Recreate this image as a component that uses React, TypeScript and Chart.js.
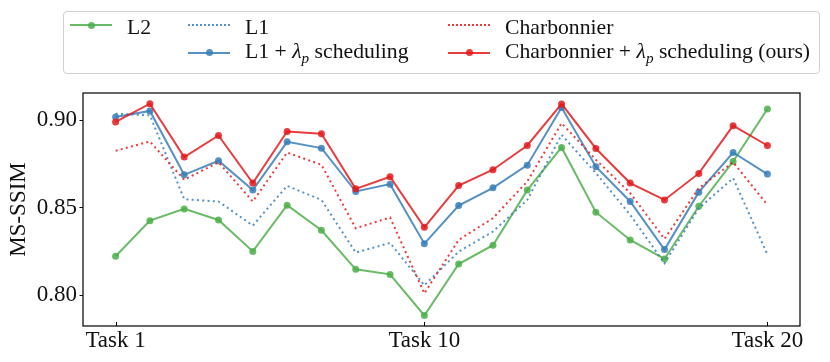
import React, { useEffect, useRef } from 'react';
import { Chart, registerables } from 'chart.js';

Chart.register(...registerables);

const categories = [
  'Task 1', 'Task 2', 'Task 3', 'Task 4', 'Task 5', 'Task 6', 'Task 7', 'Task 8', 'Task 9', 'Task 10',
  'Task 11', 'Task 12', 'Task 13', 'Task 14', 'Task 15', 'Task 16', 'Task 17', 'Task 18', 'Task 19', 'Task 20',
];
const xTickIndices = [0, 9, 19];
const yTickValues = [0.8, 0.85, 0.9];

const l2 = [0.8222, 0.8425, 0.8492, 0.8429, 0.825, 0.8513, 0.837, 0.8148, 0.8119, 0.7885, 0.8178, 0.8285, 0.8599, 0.8842, 0.8473, 0.8315, 0.8207, 0.8507, 0.8762, 0.9061];
const l1 = [0.9034, 0.9025, 0.8547, 0.8534, 0.8397, 0.8623, 0.8543, 0.8243, 0.8298, 0.8057, 0.8248, 0.8363, 0.8543, 0.8914, 0.8696, 0.8458, 0.8182, 0.8496, 0.8667, 0.8233];
const l1Sched = [0.9015, 0.905, 0.8686, 0.8766, 0.8599, 0.8874, 0.8838, 0.8591, 0.8633, 0.8294, 0.8511, 0.8612, 0.8741, 0.907, 0.8732, 0.8534, 0.826, 0.8587, 0.8813, 0.869];
const charb = [0.8823, 0.8876, 0.8658, 0.8757, 0.8534, 0.8813, 0.8743, 0.8382, 0.8443, 0.8011, 0.8315, 0.8439, 0.8648, 0.898, 0.8772, 0.8582, 0.8321, 0.861, 0.8758, 0.8515];
const charbSched = [0.8987, 0.9091, 0.8787, 0.891, 0.8639, 0.8933, 0.892, 0.8606, 0.8675, 0.8387, 0.8625, 0.8715, 0.8853, 0.909, 0.8836, 0.8639, 0.8543, 0.8694, 0.8966, 0.8853];

const GREEN = 'rgba(77,175,74,0.85)';
const BLUE = 'rgba(55,126,184,0.85)';
const RED = 'rgba(228,26,28,0.85)';
const FONT = '"Liberation Serif", "DejaVu Serif", serif';

const toPoints = (arr: number[]) => arr.map((v, i) => ({ x: i, y: v }));

const framePlugin = {
  id: 'frame',
  afterDraw(chart: any) {
    const { ctx, chartArea } = chart;
    const { left, right, top, bottom } = chartArea;
    ctx.save();
    ctx.strokeStyle = '#000';
    ctx.lineWidth = 1.2;
    ctx.strokeRect(left, top, right - left, bottom - top);
    const xs = chart.scales.x;
    const ys = chart.scales.y;
    ctx.lineWidth = 1;
    ctx.beginPath();
    xTickIndices.forEach((i) => {
      const px = Math.round(xs.getPixelForValue(i)) + 0.5;
      ctx.moveTo(px, bottom);
      ctx.lineTo(px, bottom - 4);
    });
    yTickValues.forEach((v) => {
      const py = Math.round(ys.getPixelForValue(v)) + 0.5;
      ctx.moveTo(left, py);
      ctx.lineTo(left - 3.5, py);
    });
    ctx.stroke();
    ctx.restore();
  },
};

function LegendLine({ color, dotted, marker }: { color: string; dotted?: boolean; marker?: boolean }) {
  return (
    <div style={{ position: 'relative', width: 42, height: 10 }}>
      <div
        style={{
          position: 'absolute',
          left: 0,
          right: 0,
          top: 4,
          borderTop: dotted ? `2px dotted ${color}` : `2px solid ${color}`,
        }}
      />
      {marker && (
        <div
          style={{
            position: 'absolute',
            left: 21 - 3.5,
            top: 5 - 3.5,
            width: 7,
            height: 7,
            borderRadius: '50%',
            background: color,
          }}
        />
      )}
    </div>
  );
}

function LegendItem({ x, y, color, dotted, marker, children }: any) {
  return (
    <div style={{ position: 'absolute', left: x, top: y - 14, height: 28, display: 'flex', alignItems: 'center', whiteSpace: 'nowrap' }}>
      <LegendLine color={color} dotted={dotted} marker={marker} />
      <span style={{ marginLeft: 15, fontFamily: FONT, fontSize: 21.7, color: '#111', lineHeight: '28px', position: 'relative', top: 2 }}>{children}</span>
    </div>
  );
}

export default function App() {
  const canvasRef = useRef<HTMLCanvasElement | null>(null);

  useEffect(() => {
    document.body.style.margin = '0';
    const canvas = canvasRef.current;
    if (!canvas) return;
    const common = { fill: false, tension: 0, pointBorderWidth: 0, pointHoverRadius: 3.5 };
    const chart = new Chart(canvas, {
      type: 'line',
      data: {
        datasets: [
          { ...common, label: 'L2', data: toPoints(l2), borderColor: GREEN, backgroundColor: GREEN, borderWidth: 2, pointRadius: 3.5, order: 5 },
          { ...common, label: 'L1', data: toPoints(l1), borderColor: BLUE, backgroundColor: BLUE, borderWidth: 2, borderDash: [2, 3.3], pointRadius: 0, order: 4 },
          { ...common, label: 'L1 + λp scheduling', data: toPoints(l1Sched), borderColor: BLUE, backgroundColor: BLUE, borderWidth: 2, pointRadius: 3.5, order: 3 },
          { ...common, label: 'Charbonnier', data: toPoints(charb), borderColor: RED, backgroundColor: RED, borderWidth: 2, borderDash: [2, 3.3], pointRadius: 0, order: 2 },
          { ...common, label: 'Charbonnier + λp scheduling (ours)', data: toPoints(charbSched), borderColor: RED, backgroundColor: RED, borderWidth: 2, pointRadius: 3.5, order: 1 },
        ],
      },
      options: {
        animation: false,
        responsive: false,
        devicePixelRatio: 1,
        layout: { padding: { left: 0, top: 93, right: 30, bottom: 0 } },
        plugins: { legend: { display: false }, tooltip: { enabled: false } },
        scales: {
          x: {
            type: 'linear',
            min: -0.95,
            max: 19.95,
            grid: { display: false, drawTicks: false },
            border: { display: false },
            afterBuildTicks: (s: any) => {
              s.ticks = xTickIndices.map((v) => ({ value: v }));
            },
            afterFit: (s: any) => {
              s.height = 36;
            },
            ticks: {
              autoSkip: false,
              maxRotation: 0,
              padding: 1,
              color: '#111',
              font: { family: FONT, size: 23 },
              callback: (v: any) => categories[v as number],
            },
          },
          y: {
            type: 'linear',
            min: 0.7825,
            max: 0.9152,
            grid: { display: false, drawTicks: false },
            border: { display: false },
            afterBuildTicks: (s: any) => {
              s.ticks = yTickValues.map((v) => ({ value: v }));
            },
            afterFit: (s: any) => {
              s.width = 83;
            },
            ticks: {
              padding: 6,
              color: '#111',
              font: { family: FONT, size: 23 },
              callback: (v: any) => Number(v).toFixed(2),
            },
            title: {
              display: true,
              text: 'MS-SSIM',
              color: '#111',
              font: { family: FONT, size: 23 },
              padding: { top: 5, bottom: 0 },
            },
          },
        },
      },
      plugins: [framePlugin],
    } as any);
    return () => chart.destroy();
  }, []);

  return (
    <div style={{ position: 'relative', width: 830, height: 362, background: '#fff' }}>
      <canvas ref={canvasRef} width={830} height={362} style={{ position: 'absolute', left: 0, top: 0, width: 830, height: 362 }} />
      <div
        style={{
          position: 'absolute',
          left: 63,
          top: 10.5,
          width: 757,
          height: 63,
          border: '1px solid #d0d0d0',
          borderRadius: 4,
          background: 'rgba(255,255,255,0.8)',
          boxSizing: 'border-box',
        }}
      />
      <LegendItem x={70} y={25} color={GREEN} marker>L2</LegendItem>
      <LegendItem x={188} y={25} color={BLUE} dotted>L1</LegendItem>
      <LegendItem x={188} y={52.5} color={BLUE} marker>
        L1 + <i>λ<sub style={{ fontSize: '0.7em' }}>p</sub></i> scheduling
      </LegendItem>
      <LegendItem x={448} y={25} color={RED} dotted>Charbonnier</LegendItem>
      <LegendItem x={448} y={52.5} color={RED} marker>
        Charbonnier + <i>λ<sub style={{ fontSize: '0.7em' }}>p</sub></i> scheduling (ours)
      </LegendItem>
    </div>
  );
}
